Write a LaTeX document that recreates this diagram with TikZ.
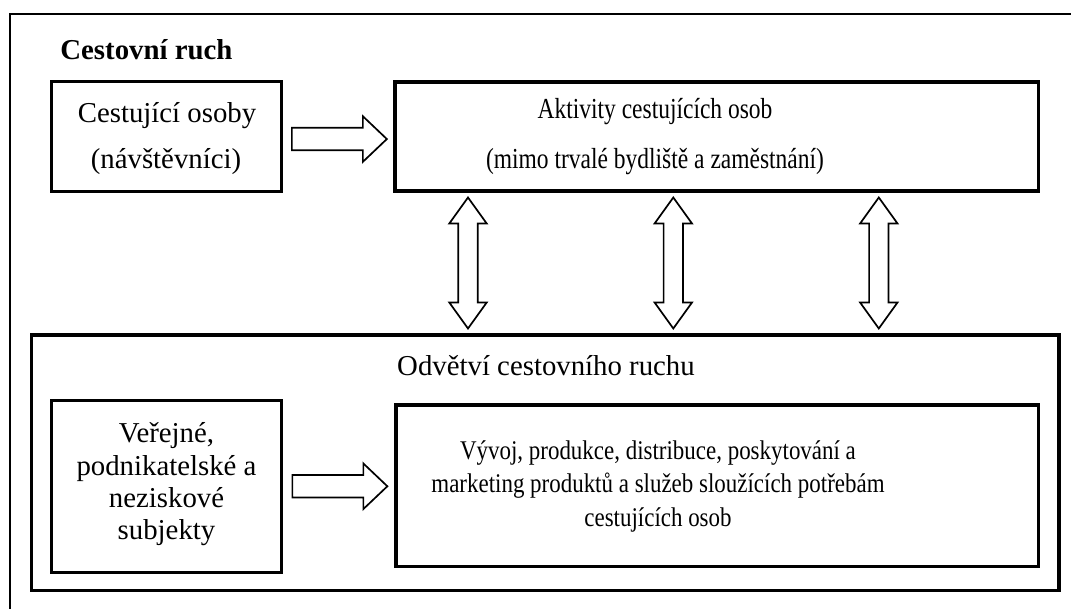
\documentclass[tikz,border=0pt]{standalone}
\usepackage{fontspec}
\setmainfont{Liberation Serif}
\newfontfamily\condA{Liberation Serif}[FakeStretch=0.81]
\newfontfamily\condB{Liberation Serif}[FakeStretch=0.85]
\usetikzlibrary{calc}
\begin{document}
\begin{tikzpicture}[x=0.5pt,y=-0.5pt,
  frameline/.style={line width=1.4pt},
  boxnode/.style={draw, line width=1.6pt, inner sep=0pt},
  txt/.style={anchor=base, inner sep=0pt, font=\fontsize{14.4}{17}\selectfont},
  txtA/.style={anchor=base, inner sep=0pt, font=\fontsize{14.5}{17}\condA},
  txtB/.style={anchor=base, inner sep=0pt, font=\fontsize{13.5}{16}\condB},
  blockarrow/.style={draw, line width=0.85pt, line join=miter, fill=white}]
\useasboundingbox (0,0) rectangle (1071,609);
% outer frame (cropped on right and bottom)
\draw[frameline] (10,609) -- (10,14) -- (1071,14);
\node[txt, anchor=base west, font=\fontsize{14.4}{17}\selectfont\bfseries] (title) at (60,60) {Cestovní ruch};
% boxes
\node[boxnode, minimum width=115pt, minimum height=55pt] (cest) at (166.7,136.6) {};
\node[boxnode, minimum width=321.85pt, minimum height=54.5pt] (akt) at (716.85,136.5) {};
\node[boxnode, minimum width=513.65pt, minimum height=127.85pt] (odv) at (545.35,462.85) {};
\node[boxnode, minimum width=115pt, minimum height=86pt] (ver) at (166.7,486.7) {};
\node[boxnode, minimum width=321.35pt, minimum height=80.85pt] (vyv) at (717.35,485.85) {};
% texts
\node[txt] (cest1) at (167,123) {Cestující osoby};
\node[txt] (cest2) at (166,169) {(návštěvníci)};
\node[txtA] (akt1) at (655,119) {Aktivity cestujících osob};
\node[txtA] (akt2) at (655,169) {(mimo trvalé bydliště a zaměstnání)};
\node[txt] (odv1) at (546,375) {Odvětví cestovního ruchu};
\node[txt] (ver1) at (166.5,442) {Veřejné,};
\node[txt] (ver2) at (166.5,475) {podnikatelské a};
\node[txt] (ver3) at (166.5,507) {neziskové};
\node[txt] (ver4) at (166.5,539) {subjekty};
\node[txtB] (vyv1) at (658,459) {Vývoj, produkce, distribuce, poskytování a};
\node[txtB] (vyv2) at (658,492.5) {marketing produktů a služeb sloužících potřebám};
\node[txtB] (vyv3) at (658,526) {cestujících osob};
% horizontal block arrows
\coordinate (h1) at ($(cest.east)!0.5!(akt.west)+(1,2.5)$);
\coordinate (h2) at ($(ver.east)!0.5!(vyv.west)+(1,0)$);
\foreach \c in {h1,h2}{
  \draw[blockarrow, shift={(\c)}] (-47.5,-11.3) -- (23.5,-11.3) -- (23.5,-22.8) -- (47.5,0)
     -- (23.5,22.8) -- (23.5,11.3) -- (-47.5,11.3) -- cycle;
}
% vertical double block arrows
\coordinate (m) at ($(akt.south)!0.5!(odv.north)$);
\coordinate (v1) at (468,0 |- m);
\coordinate (v2) at (673.3,0 |- m);
\coordinate (v3) at (878.8,0 |- m);
\foreach \c in {v1,v2,v3}{
  \draw[blockarrow, shift={(\c)}] (0,-65.5) -- (18.7,-39.5) -- (9.7,-39.5) -- (9.7,39.5)
     -- (18.7,39.5) -- (0,65.5) -- (-18.7,39.5) -- (-9.7,39.5) -- (-9.7,-39.5)
     -- (-18.7,-39.5) -- cycle;
}
\end{tikzpicture}
\end{document}
